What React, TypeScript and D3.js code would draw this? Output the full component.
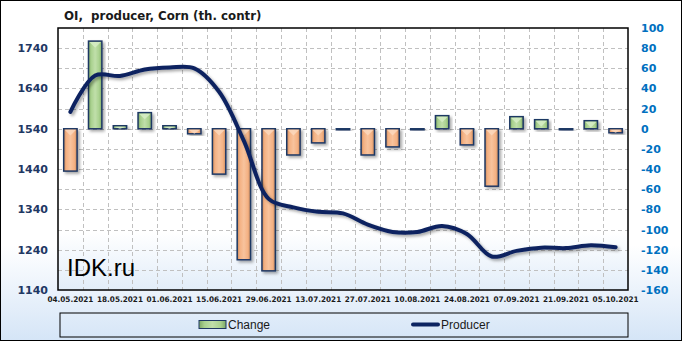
import React from "react";
import * as d3 from "d3";

const dates = [
  "04.05.2021", "11.05.2021", "18.05.2021", "25.05.2021", "01.06.2021", "08.06.2021",
  "15.06.2021", "22.06.2021", "29.06.2021", "06.07.2021", "13.07.2021", "20.07.2021",
  "27.07.2021", "03.08.2021", "10.08.2021", "17.08.2021", "24.08.2021", "31.08.2021",
  "07.09.2021", "14.09.2021", "21.09.2021", "28.09.2021", "05.10.2021",
];
const change = [-42, 87, 3, 16, 3, -5, -45, -130, -141, -26, -14, -1, -26, -18, -1, 13, -16, -57, 12, 9, -1, 8, -4];
const producer = [1582, 1672, 1671, 1687, 1692, 1690, 1632, 1510, 1366, 1345, 1334, 1330, 1302, 1284, 1284, 1299, 1279, 1223, 1237, 1245, 1244, 1251, 1246];
const leftTicks = [1140, 1240, 1340, 1440, 1540, 1640, 1740];
const rightTicks = [-160, -140, -120, -100, -80, -60, -40, -20, 0, 20, 40, 60, 80, 100];
const title = "OI,  producer, Corn (th. contr)";

const W = 682, H = 341;
const PL = 58, PR = 628, PT = 28, PB = 290;

export default function App() {
  const x = d3.scaleBand<string>().domain(dates).range([PL, PR]).padding(0);
  const yR = d3.scaleLinear().domain([-160, 100]).range([PB, PT]);
  const yL = d3.scaleLinear().domain([1140, 1790]).range([PB, PT]);
  const bw = x.bandwidth() * 0.54;
  const cx = (d: string) => (x(d) as number) + x.bandwidth() / 2;

  const line = d3
    .line<number>()
    .x((_, i) => cx(dates[i]))
    .y((v) => yL(v))
    .curve(d3.curveCatmullRom.alpha(0.5));

  const font = "'DejaVu Sans', Verdana, sans-serif";

  return (
    <svg width={W} height={H} style={{ position: "fixed", left: 0, top: 0 }} xmlns="http://www.w3.org/2000/svg">
      <defs>
        <linearGradient id="bg" x1="0" y1="0" x2="0" y2="1">
          <stop offset="0" stopColor="#ffffff" />
          <stop offset="0.72" stopColor="#ffffff" />
          <stop offset="1" stopColor="#d5e5f7" />
        </linearGradient>
        <linearGradient id="pbg" x1="0" y1="0" x2="0" y2="1">
          <stop offset="0" stopColor="#ffffff" />
          <stop offset="0.78" stopColor="#ffffff" />
          <stop offset="1" stopColor="#e2edf9" />
        </linearGradient>
        <linearGradient id="gGreen" x1="0" y1="0" x2="1" y2="0">
          <stop offset="0" stopColor="#7ea866" />
          <stop offset="0.2" stopColor="#a9d18e" />
          <stop offset="0.5" stopColor="#c0dfaa" />
          <stop offset="0.8" stopColor="#a9d18e" />
          <stop offset="1" stopColor="#7ea866" />
        </linearGradient>
        <linearGradient id="gOrange" x1="0" y1="0" x2="1" y2="0">
          <stop offset="0" stopColor="#c98a5c" />
          <stop offset="0.2" stopColor="#f4b183" />
          <stop offset="0.5" stopColor="#f8c39d" />
          <stop offset="0.8" stopColor="#f4b183" />
          <stop offset="1" stopColor="#c98a5c" />
        </linearGradient>
        <filter id="sh" x="-30%" y="-30%" width="160%" height="160%">
          <feDropShadow dx="2" dy="2" stdDeviation="1.5" floodColor="#000" floodOpacity="0.35" />
        </filter>
      </defs>

      <rect x={0.5} y={0.5} width={W - 1} height={H - 1} fill="url(#bg)" stroke="#000" strokeWidth={1} />
      <rect x={PL} y={PT} width={PR - PL} height={PB - PT} fill="url(#pbg)" />

      {/* grid */}
      <g stroke="#c0c0c0" strokeWidth={1} strokeDasharray="4,3">
        {dates.slice(1).map((d) => (
          <line key={d} x1={Math.round(x(d) as number) + 0.5} x2={Math.round(x(d) as number) + 0.5} y1={PT} y2={PB} />
        ))}
        {rightTicks.slice(1, -1).map((t) => (
          <line key={t} x1={PL} x2={PR} y1={Math.round(yR(t)) + 0.5} y2={Math.round(yR(t)) + 0.5} />
        ))}
      </g>

      {/* bars */}
      <g>
        {change.map((v, i) => {
          const d = dates[i];
          const x0 = cx(d) - bw / 2;
          const y0 = Math.min(yR(0), yR(v));
          const h = Math.max(Math.abs(yR(v) - yR(0)), 1);
          const pos = v > 0;
          const tri = Math.min(h, bw / 2);
          return (
            <g key={d} filter="url(#sh)">
              <rect x={x0} y={y0} width={bw} height={h} fill={pos ? "url(#gGreen)" : "url(#gOrange)"} stroke="#1f3864" strokeWidth={1.5} />
              {h > 3 && (
                <polygon
                  points={`${x0 + 1},${y0 + 1} ${x0 + bw - 1},${y0 + 1} ${x0 + bw / 2},${y0 + tri}`}
                  fill={pos ? "#d8efc8" : "#fbd9bf"}
                  opacity={0.8}
                />
              )}
            </g>
          );
        })}
      </g>

      {/* line */}
      <path d={line(producer) || ""} fill="none" stroke="#0c2461" strokeWidth={4} strokeLinecap="round" strokeLinejoin="round" filter="url(#sh)" />

      {/* plot border */}
      <rect x={PL} y={PT} width={PR - PL} height={PB - PT} fill="none" stroke="#000" strokeWidth={1.5} />

      {/* title */}
      <text x={64} y={19.5} fontFamily={font} fontWeight="bold" fontSize={11.8} fill="#1a1a1a" style={{ whiteSpace: "pre" }}>
        {title}
      </text>

      {/* left axis */}
      {leftTicks.map((t) => (
        <text key={t} x={48} y={yL(t) + 4} textAnchor="end" fontFamily={font} fontWeight="bold" fontSize={11} fill="#1f3864">
          {t}
        </text>
      ))}

      {/* right axis */}
      {rightTicks.map((t) => (
        <text key={t} x={641} y={yR(t) + 4} textAnchor="start" fontFamily={font} fontWeight="bold" fontSize={11} fill="#0070c0">
          {t}
        </text>
      ))}

      {/* x axis labels */}
      {dates.map((d, i) =>
        i % 2 === 0 ? (
          <text
            key={d}
            x={cx(d) - 23}
            y={302}
            textLength={46}
            lengthAdjust="spacingAndGlyphs"
            fontFamily={font}
            fontWeight="bold"
            fontSize={7.6}
            fill="#1a1a1a"
          >
            {d}
          </text>
        ) : null
      )}

      {/* watermark */}
      <text x={67} y={276} fontFamily="'Liberation Sans', Arial, sans-serif" fontSize={24} fill="#000">
        IDK.ru
      </text>

      {/* legend */}
      <rect x={60} y={313} width={568} height={24} fill="none" stroke="#000" strokeWidth={1} />
      <rect x={199} y={320.5} width={27} height={8} fill="url(#gGreen)" stroke="#1f3864" strokeWidth={1} />
      <text x={228} y={329} fontFamily="'Liberation Sans', Arial, sans-serif" fontSize={12} fill="#1a1a1a">
        Change
      </text>
      <line x1={413} x2={438} y1={324.5} y2={324.5} stroke="#0c2461" strokeWidth={4} strokeLinecap="round" />
      <text x={441} y={329} fontFamily="'Liberation Sans', Arial, sans-serif" fontSize={12} fill="#1a1a1a">
        Producer
      </text>
    </svg>
  );
}
